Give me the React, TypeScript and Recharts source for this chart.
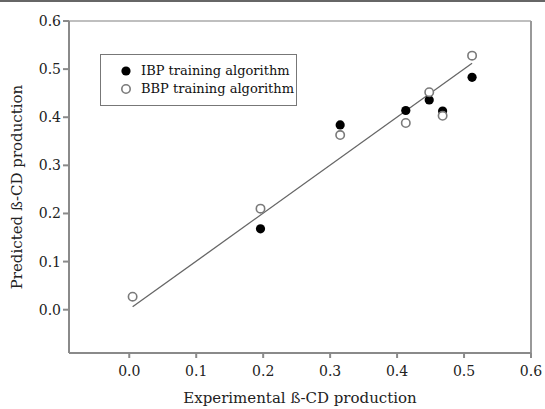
import React from "react";
import {
  ScatterChart,
  Scatter,
  XAxis,
  YAxis,
  ReferenceLine,
} from "recharts";

// experimental vs predicted beta-CD production
const ibpX = [0.196, 0.315, 0.413, 0.448, 0.468, 0.512];
const ibpY = [0.168, 0.384, 0.414, 0.436, 0.413, 0.483];
const bbpX = [0.005, 0.196, 0.315, 0.413, 0.448, 0.468, 0.512];
const bbpY = [0.027, 0.21, 0.363, 0.388, 0.452, 0.403, 0.528];
const fitX = [0.005, 0.512];
const fitY = [0.006, 0.512];
const ticks = [0, 0.1, 0.2, 0.3, 0.4, 0.5, 0.6];
const seriesNames = ["IBP training algorithm", "BBP training algorithm"];

const ibp = ibpX.map((x, i) => ({ x, y: ibpY[i] }));
const bbp = bbpX.map((x, i) => ({ x, y: bbpY[i] }));

const font = "'DejaVu Serif', serif";
const axisGray = "#8a8a8a";

const FilledDot = (p: any) => <circle cx={p.cx} cy={p.cy} r={4.6} fill="#000" />;
const OpenDot = (p: any) => (
  <circle cx={p.cx} cy={p.cy} r={4.2} fill="#fff" stroke="#7a7a7a" strokeWidth={1.6} />
);

function LegendBox() {
  return (
    <div
      style={{
        position: "absolute",
        left: 100,
        top: 52,
        border: "1.5px solid #777",
        width: 197,
        height: 52,
        boxSizing: "border-box",
        padding: "7px 0 0 18px",
        fontFamily: font,
        fontSize: 13,
        color: "#111",
        lineHeight: "18px",
        whiteSpace: "nowrap",
      }}
    >
      {seriesNames.map((n, i) => (
        <div key={n} style={{ display: "flex", alignItems: "center" }}>
          <svg width={22} height={18}>
            {i === 0 ? (
              <circle cx={7} cy={9} r={4.6} fill="#000" />
            ) : (
              <circle cx={7} cy={9} r={4.2} fill="#fff" stroke="#7a7a7a" strokeWidth={1.6} />
            )}
          </svg>
          <span>{n}</span>
        </div>
      ))}
    </div>
  );
}

export default function App() {
  return (
    <div
      style={{
        position: "absolute",
        left: 0,
        top: 0,
        width: 545,
        height: 409,
        background: "#fff",
        borderTop: "2px solid #666",
        boxSizing: "border-box",
      }}
    >
      <ScatterChart width={545} height={407} margin={{ top: 19, right: 14, left: 0, bottom: 0 }}>
        <XAxis
          type="number"
          dataKey="x"
          domain={[-0.09, 0.6]}
          ticks={ticks}
          tickFormatter={(v: number) => v.toFixed(1)}
          allowDataOverflow
          height={56}
          stroke={axisGray}
          strokeWidth={2}
          tickSize={5}
          tickMargin={8}
          tick={{ fill: "#222", fontSize: 14, fontFamily: font }}
          label={{
            value: "Experimental ß-CD production",
            position: "insideBottom",
            offset: 6,
            style: { fill: "#222", fontSize: 15, fontFamily: font },
          }}
        />
        <YAxis
          type="number"
          dataKey="y"
          domain={[-0.09, 0.6]}
          ticks={ticks}
          tickFormatter={(v: number) => v.toFixed(1)}
          allowDataOverflow
          width={69}
          stroke={axisGray}
          strokeWidth={2}
          tickSize={6}
          tickMargin={2}
          tick={{ fill: "#222", fontSize: 14, fontFamily: font }}
          label={{
            value: "Predicted ß-CD production",
            angle: -90,
            position: "insideLeft",
            offset: 17,
            style: { textAnchor: "middle", fill: "#222", fontSize: 15, fontFamily: font },
          }}
        />
        <ReferenceLine y={0.6} stroke="#aaa" strokeWidth={1.5} />
        <ReferenceLine x={0.6} stroke="#999" strokeWidth={2} />
        <ReferenceLine
          segment={[
            { x: fitX[0], y: fitY[0] },
            { x: fitX[1], y: fitY[1] },
          ]}
          stroke="#666"
          strokeWidth={1.3}
        />
        <Scatter name={seriesNames[0]} data={ibp} shape={FilledDot} isAnimationActive={false} />
        <Scatter name={seriesNames[1]} data={bbp} shape={OpenDot} isAnimationActive={false} />
      </ScatterChart>
      <LegendBox />
    </div>
  );
}
